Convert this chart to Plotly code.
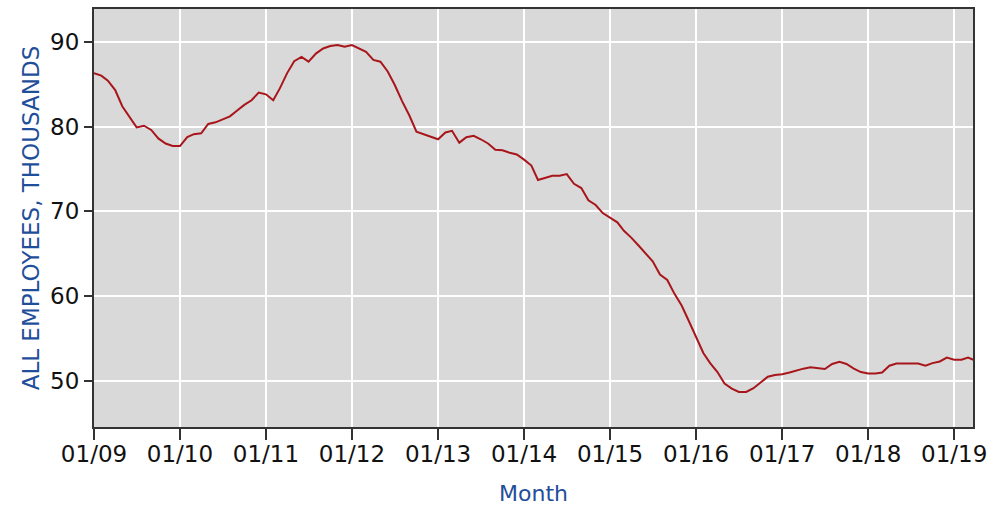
import plotly.graph_objects as go
import pandas as pd

# Monthly values, Jan 2009 .. Apr 2019 (thousands of employees)
employees = [
    86.3, 86.0, 85.4, 84.3, 82.4, 81.2, 79.9, 80.1, 79.6, 78.6, 78.0, 77.7,   # 2009
    77.7, 78.75, 79.1, 79.2, 80.3, 80.5, 80.8, 81.2, 81.9, 82.55, 83.1, 84.0,  # 2010
    83.8, 83.1, 84.5, 86.3, 87.7, 88.2, 87.65, 88.6, 89.2, 89.5, 89.6, 89.4,   # 2011
    89.6, 89.2, 88.8, 87.85, 87.65, 86.5, 84.9, 83.0, 81.3, 79.4, 79.05, 78.8, # 2012
    78.5, 79.3, 79.5, 78.1, 78.75, 78.9, 78.5, 78.0, 77.25, 77.2, 76.9, 76.7,  # 2013
    76.1, 75.4, 73.7, 74.0, 74.2, 74.2, 74.4, 73.25, 72.75, 71.3, 70.75, 69.8, # 2014
    69.2, 68.7, 67.7, 66.9, 66.0, 65.1, 64.1, 62.55, 61.9, 60.3, 58.9, 57.1,   # 2015
    55.3, 53.3, 52.1, 51.05, 49.7, 49.1, 48.7, 48.7, 49.15, 49.8, 50.5, 50.7,  # 2016
    50.8, 51.0, 51.25, 51.45, 51.6, 51.5, 51.4, 52.0, 52.25, 52.0, 51.45, 51.05, # 2017
    50.87, 50.87, 51.0, 51.8, 52.05, 52.05, 52.05, 52.05, 51.8, 52.1, 52.3, 52.75, # 2018
    52.5, 52.5, 52.75, 52.4,                                                   # 2019
]
months = pd.date_range("2009-01-01", periods=len(employees), freq="MS")

y_ticks = [50, 60, 70, 80, 90]

fig = go.Figure()
fig.add_trace(go.Scatter(
    x=months, y=employees, mode="lines",
    line=dict(color="#a8161b", width=2),
    hoverinfo="skip", showlegend=False,
))

axis_font = dict(family="DejaVu Sans", size=23, color="#111111")
title_color = "#1f4e9a"

fig.update_layout(
    width=997, height=507,
    margin=dict(l=94, r=24, t=9, b=80),
    paper_bgcolor="white",
    plot_bgcolor="#d9d9d9",
    xaxis=dict(
        range=["2009-01-01", "2019-03-22"],
        tickmode="linear", tick0="2009-01-01", dtick="M12",
        tickformat="%m/%y",
        ticks="outside", ticklen=11, tickwidth=2, tickcolor="#333333",
        ticklabelstandoff=-6,
        tickfont=axis_font,
        showgrid=True, gridcolor="white", gridwidth=2,
        showline=True, linecolor="#333333", linewidth=2, mirror=True,
        zeroline=False, automargin=False,
    ),
    yaxis=dict(
        range=[44.57, 93.86],
        tickvals=y_ticks,
        ticks="outside", ticklen=8, tickwidth=2, tickcolor="#333333",
        tickfont=axis_font,
        showgrid=True, gridcolor="white", gridwidth=2,
        showline=True, linecolor="#333333", linewidth=2, mirror=True,
        zeroline=False, automargin=False,
        title=dict(text="ALL EMPLOYEES, THOUSANDS",
                   font=dict(family="DejaVu Sans", size=23, color=title_color),
                   standoff=4),
    ),
    annotations=[dict(
        text="Month", xref="paper", yref="paper", x=0.5, y=-0.160,
        xanchor="center", yanchor="middle", showarrow=False,
        font=dict(family="DejaVu Sans", size=22, color=title_color),
    )],
)

fig.write_html(
    "out.html",
    config={"displayModeBar": False},
    post_script="document.body.style.margin='0';document.body.style.overflow='hidden';",
)
